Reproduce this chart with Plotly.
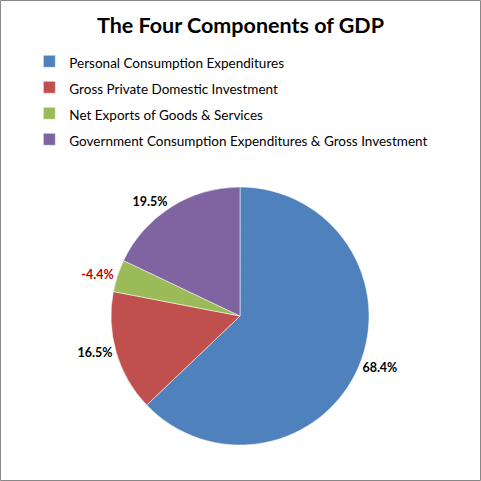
import plotly.graph_objects as go

# %% data
components = [
    "Personal Consumption Expenditures",
    "Gross Private Domestic Investment",
    "Net Exports of Goods & Services",
    "Government Consumption Expenditures & Gross Investment",
]
shares = [68.4, 16.5, 4.4, 19.5]          # slice sizes (net exports drawn by magnitude)
share_labels = ["68.4%", "16.5%", "-4.4%", "19.5%"]
colors = ["#4F81BD", "#C0504D", "#9BBB59", "#8064A2"]
label_colors = ["#000000", "#000000", "#C00000", "#000000"]

# legend rows get taller spacing from a big legend font; the text itself stays small
legend_names = [f"<span style='font-size:13.5px'>{c}</span>" for c in components]

# %% figure
fig = go.Figure(go.Pie(
    labels=legend_names,
    values=shares,
    text=share_labels,
    textinfo="text",
    textposition="outside",
    outsidetextfont=dict(family="Lato", size=12.5, color=label_colors, weight="bold"),
    marker=dict(colors=colors, line=dict(color="white", width=0.5)),
    sort=False,
    direction="clockwise",
    rotation=0,
    automargin=False,
    domain=dict(x=[0.2308, 0.7672], y=[0.0748, 0.6112]),
))

fig.update_layout(
    width=481, height=481,
    margin=dict(l=0, r=0, t=0, b=0),
    paper_bgcolor="white",
    font=dict(family="Lato", size=13, color="#000000"),
    title=dict(text="<b>The Four Components of GDP</b>", x=0.5, xanchor="center",
               y=0.946, yanchor="middle", font=dict(size=21.5, family="Lato")),
    legend=dict(x=0.061, y=0.91, xanchor="left", yanchor="top",
                font=dict(size=17.7), itemwidth=30, tracegroupgap=0),
    shapes=[dict(type="rect", xref="paper", yref="paper", x0=0.001, y0=0.001,
                 x1=0.999, y1=0.999, line=dict(color="#868686", width=1))],
)

fig.write_html("out.html", config={"displayModeBar": False},
               post_script="document.body.style.margin='0';")
